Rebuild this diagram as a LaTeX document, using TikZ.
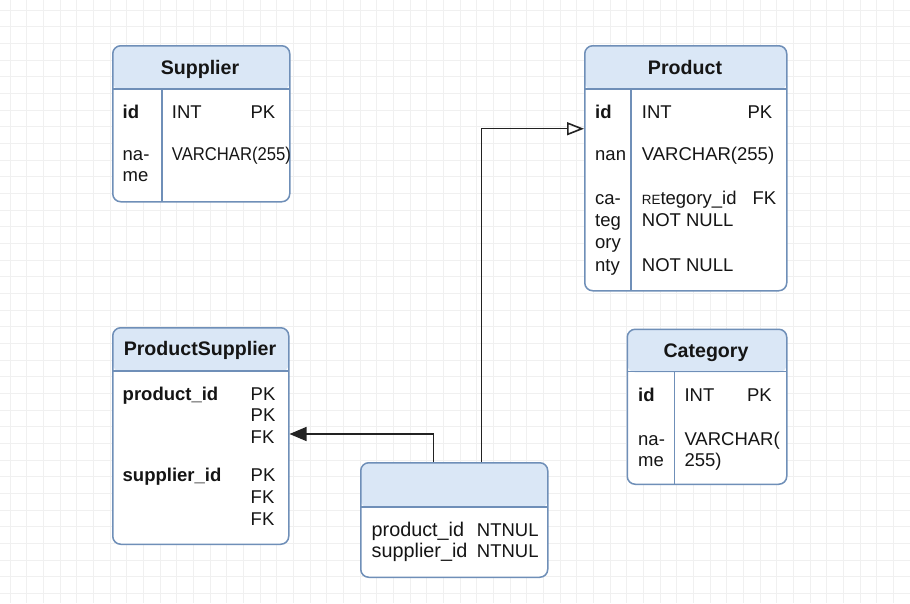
\documentclass[tikz,border=0pt]{standalone}
\usepackage{fontspec}
\setmainfont{Liberation Sans}
\usetikzlibrary{arrows.meta,calc}
\definecolor{bordc}{HTML}{6F8FB8}
\definecolor{hdrc}{HTML}{DAE7F6}
\definecolor{gridc}{HTML}{F0F0F0}
\definecolor{inkc}{HTML}{151515}
\definecolor{connc}{HTML}{222222}
\tikzset{
  tbl/.style={draw=bordc, fill=white, line width=1.5pt, rounded corners=8pt,
    anchor=north west, inner sep=0pt,
    path picture={\fill[hdrc] (path picture bounding box.north west) rectangle ([yshift=-#1]path picture bounding box.north east);}},
  bord/.style={draw=bordc, line width=1.5pt},
  hdrtext/.style={font=\fontsize{19.6}{22}\selectfont\bfseries, text=inkc, inner sep=0pt, anchor=base},
  cell/.style={font=\fontsize{18.5}{22}\selectfont, text=inkc, inner sep=0pt, anchor=base west},
  bcell/.style={cell, font=\fontsize{18.5}{22}\selectfont\bfseries},
  rcell/.style={cell, anchor=base east},
  wcell/.style={cell, font=\fontsize{19.8}{22}\selectfont},
  conn/.style={draw=connc, line width=1.4pt},
  gridline/.style={draw=gridc, line width=1pt}
}
\begin{document}
\begin{tikzpicture}[x=1pt,y=-1pt]
\useasboundingbox (0,0) rectangle (910,603);
\fill[white] (0,0) rectangle (910,603);
% background grid
\foreach \i in {0,...,54} \draw[gridline] (10+\i*16.667,0) -- (10+\i*16.667,603);
\foreach \j in {0,...,35} \draw[gridline] (0,10+\j*16.667) -- (910,10+\j*16.667);

% ---------- Supplier ----------
\node[tbl=44pt, minimum width=177pt, minimum height=156pt] (sup) at (112,45) {};
\draw[bord] (112,89) -- (289,89);
\draw[bord] (162,89) -- (162,201);
\node[hdrtext] (supH) at (200,74) {Supplier};
\node[bcell] (supA) at (122.5,118.3) {id};
\node[cell] (supB) at (171.7,118.3) {INT};
\node[rcell] (supC) at (275.5,118.3) {PK};
\node[cell] (supD) at (122.5,160.7) {na-};
\node[cell] (supE) at (122.5,181.7) {me};
\node[cell] (supF) at (171.7,160.7) {\scalebox{0.9}[1]{VARCHAR(255)}};

% ---------- Product ----------
\node[tbl=44pt, minimum width=202pt, minimum height=245pt] (prod) at (584,45) {};
\draw[bord] (584,89) -- (786,89);
\draw[bord] (631,89) -- (631,290);
\node[hdrtext] (prodH) at (685,74) {Product};
\node[bcell] (prodA) at (595,118.3) {id};
\node[cell] (prodB) at (641.7,118.3) {INT};
\node[rcell] (prodC) at (772.5,118.3) {PK};
\node[cell] (prodD) at (595,160) {nan};
\node[cell] (prodE) at (641.7,160) {VARCHAR(255)};
\node[cell] (prodF) at (595,204) {ca-};
\node[cell] (prodG) at (595,226.3) {teg};
\node[cell] (prodH2) at (595,248.6) {ory};
\node[cell] (prodI) at (595,271) {nty};
\node[cell] (prodJ) at (641.7,204) {{\fontsize{13.4}{22}\selectfont RE}tegory\_id};
\node[rcell] (prodK) at (776.5,204) {FK};
\node[cell] (prodL) at (641.7,226.3) {NOT NULL};
\node[cell] (prodM) at (641.7,271) {NOT NULL};

% ---------- ProductSupplier ----------
\node[tbl=44pt, minimum width=176pt, minimum height=216.5pt] (ps) at (112,327) {};
\draw[bord] (112,371) -- (288,371);
\node[hdrtext] (psH) at (200,355.5) {ProductSupplier};
\node[bcell] (psA) at (122.5,400) {product\_id};
\node[cell] (psB) at (250.5,400) {PK};
\node[cell] (psC) at (250.5,421.7) {PK};
\node[cell] (psD) at (250.5,443.3) {FK};
\node[bcell] (psE) at (122.5,481.7) {supplier\_id};
\node[cell] (psF) at (250.5,481.7) {PK};
\node[cell] (psG) at (250.5,503.3) {FK};
\node[cell] (psH2) at (250.5,525) {FK};

% ---------- unnamed link table ----------
\node[tbl=45pt, minimum width=187pt, minimum height=114.5pt] (lnk) at (360,462) {};
\draw[bord] (360,507) -- (547,507);
\node[wcell] (lnkA) at (371.5,536.7) {product\_id};
\node[cell] (lnkB) at (476.7,536.7) {NTNUL};
\node[wcell] (lnkC) at (371.5,557.5) {supplier\_id};
\node[cell] (lnkD) at (476.7,557.5) {NTNUL};

% ---------- Category ----------
\node[tbl=43pt, minimum width=159.5pt, minimum height=155pt] (cat) at (626.5,328.5) {};
\draw[bord] (626.5,371.5) -- (786,371.5);
\draw[bord] (674.3,371.5) -- (674.3,483.5);
\node[hdrtext] (catH) at (706,357.5) {Category};
\node[bcell] (catA) at (638,401) {id};
\node[cell] (catB) at (684.3,401) {INT};
\node[rcell] (catC) at (772,401) {PK};
\node[cell] (catD) at (638,445) {na-};
\node[cell] (catE) at (638,466) {me};
\node[cell] (catF) at (684.3,445) {VARCHAR(};
\node[cell] (catG) at (684.3,466) {255)};

% ---------- connectors ----------
\draw[conn, -{Triangle[length=17pt,width=14pt]}]
  ([xshift=-21pt]lnk.north) |- ([yshift=2pt]ps.east);
\draw[conn, -{Triangle[open,length=17pt,width=13pt,line width=1.6pt]}]
  ([xshift=27pt]lnk.north) |- ([yshift=39.5pt]prod.west);
\end{tikzpicture}
\end{document}
